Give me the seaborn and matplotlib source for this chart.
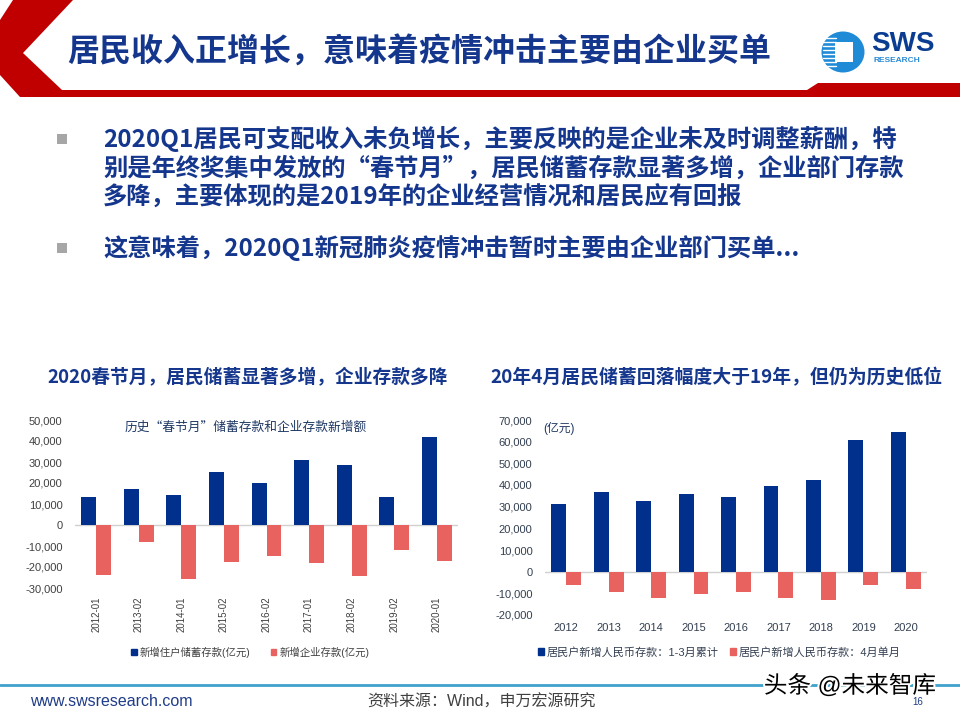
import numpy as np
import pandas as pd
import matplotlib
matplotlib.use('Agg')
import matplotlib.pyplot as plt
import matplotlib.patheffects as pe
from matplotlib.patches import Polygon, Ellipse, Rectangle, Patch
from matplotlib.lines import Line2D
from matplotlib.ticker import StrMethodFormatter
import seaborn as sns

# ---------------------------------------------------
# DATOS
# ---------------------------------------------------
LEFT_PERIODS = ['2012-01', '2013-02', '2014-01', '2015-02', '2016-02',
                '2017-01', '2018-02', '2019-02', '2020-01']
LEFT_HOUSEHOLD = [13500, 17000, 14100, 25200, 19800, 31000, 28400, 13200, 42100]
LEFT_CORPORATE = [-23800, -7900, -25700, -17600, -14800, -18100, -24100, -12100, -17300]
LEFT_SERIES = ['新增住户储蓄存款(亿元)', '新增企业存款(亿元)']

RIGHT_YEARS = ['2012', '2013', '2014', '2015', '2016', '2017', '2018', '2019', '2020']
RIGHT_Q1 = [31200, 36900, 32800, 36000, 34600, 39500, 42400, 60700, 64500]
RIGHT_APRIL = [-6100, -9200, -12300, -10400, -9200, -12000, -13200, -6100, -8100]
RIGHT_SERIES = ['居民户新增人民币存款：1-3月累计', '居民户新增人民币存款：4月单月']

TITLE = '居民收入正增长，意味着疫情冲击主要由企业买单'
BULLET_1 = ['2020Q1居民可支配收入未负增长，主要反映的是企业未及时调整薪酬，特',
            '别是年终奖集中发放的“春节月”，居民储蓄存款显著多增，企业部门存款',
            '多降，主要体现的是2019年的企业经营情况和居民应有回报']
BULLET_2 = '这意味着，2020Q1新冠肺炎疫情冲击暂时主要由企业部门买单...'
LEFT_TITLE = '2020春节月，居民储蓄显著多增，企业存款多降'
RIGHT_TITLE = '20年4月居民储蓄回落幅度大于19年，但仍为历史低位'
LEFT_NOTE = '历史“春节月”储蓄存款和企业存款新增额'
SOURCE = '资料来源：Wind，申万宏源研究'
# ---------------------------------------------------

BLUE = '#00308c'
RED = '#e8625f'
NAVY = '#14368c'
W, H = 960, 720


def P(x, y):
    # pixel (desde arriba-izquierda) a coordenadas de figura
    return x / W, 1 - y / H


def long_df(cats, a, b, names):
    return pd.DataFrame({
        'cat': cats * 2,
        'value': a + b,
        'series': [names[0]] * len(cats) + [names[1]] * len(cats),
    })


def draw_chart(ax, df, ylim, step, label_color, rotation):
    sns.barplot(data=df, x='cat', y='value', hue='series', palette=[BLUE, RED],
                width=0.7, saturation=1, linewidth=0, legend=False, ax=ax)
    ax.set_ylim(*ylim)
    ax.set_xlim(-0.5, len(df['cat'].unique()) - 0.5)
    ax.set_yticks(np.arange(ylim[0], ylim[1] + 1, step))
    ax.yaxis.set_major_formatter(StrMethodFormatter('{x:,.0f}'))
    ax.axhline(0, color='#d0d0d0', linewidth=1, zorder=0)
    sns.despine(ax=ax, left=True, bottom=True)
    ax.set_xlabel('')
    ax.set_ylabel('')
    ax.tick_params(axis='both', length=0, labelsize=8, colors=label_color)
    ax.tick_params(axis='y', pad=9)
    ax.tick_params(axis='x', pad=6)
    if rotation:
        ax.tick_params(axis='x', labelrotation=90, labelsize=7)
    ax.set_facecolor('none')


def main():
    sns.set_style('white')
    plt.rcParams['font.family'] = ['Liberation Sans', 'Noto Sans CJK SC', 'DejaVu Sans']
    plt.rcParams['axes.unicode_minus'] = False

    fig = plt.figure(figsize=(9.6, 7.2), dpi=100)

    # Cabecera roja
    pts = [(13, 0), (73, 0), (23, 53), (62, 90), (807, 90), (818, 83), (960, 83),
           (960, 97), (20, 97), (0, 75), (0, 20)]
    fig.add_artist(Polygon([P(x, y) for x, y in pts], closed=True,
                           transform=fig.transFigure, facecolor='#c00000', edgecolor='none'))
    fig.text(*P(67, 53), TITLE, fontsize=23, fontweight='bold', color=NAVY,
             family=['Noto Sans CJK SC'], va='center', ha='left')

    # Logo
    fig.add_artist(Ellipse(P(843, 52), 43 / W, 41 / H, transform=fig.transFigure,
                           facecolor='#1f8bd6', edgecolor='none'))
    for yy in range(38, 68, 4):
        fig.add_artist(Line2D([P(823, 0)[0], P(836, 0)[0]], [P(0, yy)[1]] * 2,
                              transform=fig.transFigure, color='white', linewidth=1))
    fig.add_artist(Rectangle(P(835, 62), 18 / W, 20 / H, transform=fig.transFigure,
                             facecolor='white', edgecolor='none'))
    fig.text(*P(871, 44), 'SWS', fontsize=20, fontweight='bold', color='#0a3d91',
             va='center', ha='left')
    fig.text(*P(873, 60), 'RESEARCH', fontsize=6, fontweight='bold', color='#2a8ad4',
             va='center', ha='left')

    # Viñetas
    cjk = ['Noto Sans CJK SC']
    for i, line in enumerate(BULLET_1):
        fig.text(*P(103, 139 + i * 29.5), line, fontsize=17.5, fontweight='bold',
                 color=NAVY, family=cjk, va='center', ha='left')
    fig.text(*P(103, 248), BULLET_2, fontsize=17.5, fontweight='bold', color=NAVY,
             family=cjk, va='center', ha='left')
    for yb in (139, 248):
        fig.add_artist(Rectangle(P(57, yb + 5), 10 / W, 10 / H, transform=fig.transFigure,
                                 facecolor='#a6a6a6', edgecolor='none'))

    # Títulos de los gráficos
    fig.text(*P(47, 378), LEFT_TITLE, fontsize=13.5, fontweight='bold', color=NAVY,
             family=cjk, va='center', ha='left')
    fig.text(*P(490, 378), RIGHT_TITLE, fontsize=13.6, fontweight='bold', color=NAVY,
             family=cjk, va='center', ha='left')

    # Gráfico izquierdo
    ax1 = fig.add_axes([75 / W, 1 - 588 / H, 383 / W, 168 / H])
    draw_chart(ax1, long_df(LEFT_PERIODS, LEFT_HOUSEHOLD, LEFT_CORPORATE, LEFT_SERIES),
               (-30000, 50000), 10000, '#404040', True)
    fig.text(*P(125, 427), LEFT_NOTE, fontsize=9.2, color='#1f3864', family=cjk,
             va='center', ha='left')
    fig.legend(handles=[Patch(color=BLUE, label=LEFT_SERIES[0]),
                        Patch(color=RED, label=LEFT_SERIES[1])],
               loc='center left', bbox_to_anchor=P(122, 652), ncol=2, frameon=False,
               fontsize=7.5, handlelength=0.5, handleheight=0.5, handletextpad=0.3,
               columnspacing=2.0, labelcolor='#404040')

    # Gráfico derecho
    ax2 = fig.add_axes([545 / W, 1 - 615 / H, 382 / W, 195 / H])
    draw_chart(ax2, long_df(RIGHT_YEARS, RIGHT_Q1, RIGHT_APRIL, RIGHT_SERIES),
               (-20000, 70000), 10000, '#333f50', False)
    fig.text(*P(543, 428), '(亿元)', fontsize=8.5, color='#1f3864', va='center', ha='left')
    fig.legend(handles=[Patch(color=BLUE, label=RIGHT_SERIES[0]),
                        Patch(color=RED, label=RIGHT_SERIES[1])],
               loc='center left', bbox_to_anchor=P(528, 652), ncol=2, frameon=False,
               fontsize=8, handlelength=0.5, handleheight=0.5, handletextpad=0.3,
               columnspacing=1.0, labelcolor='#333f50')

    # Pie de página
    fig.add_artist(Line2D([0, 1], [P(0, 685)[1]] * 2, transform=fig.transFigure,
                          color='#3fa1cc', linewidth=2))
    fig.text(*P(30, 702), 'www.swsresearch.com', fontsize=11.5, color='#1f3c88',
             va='center', ha='left')
    fig.text(*P(482, 702), SOURCE, fontsize=11.5, color='#404040', va='center', ha='center')
    fig.text(*P(918, 702), '16', fontsize=7, color='#1f3c88', va='center', ha='center')
    fig.text(*P(850, 686), '头条 @未来智库', fontsize=17, color='black', va='center',
             ha='center', path_effects=[pe.withStroke(linewidth=3, foreground='white')])

    fig.savefig('out.png', dpi=100)


if __name__ == '__main__':
    main()
